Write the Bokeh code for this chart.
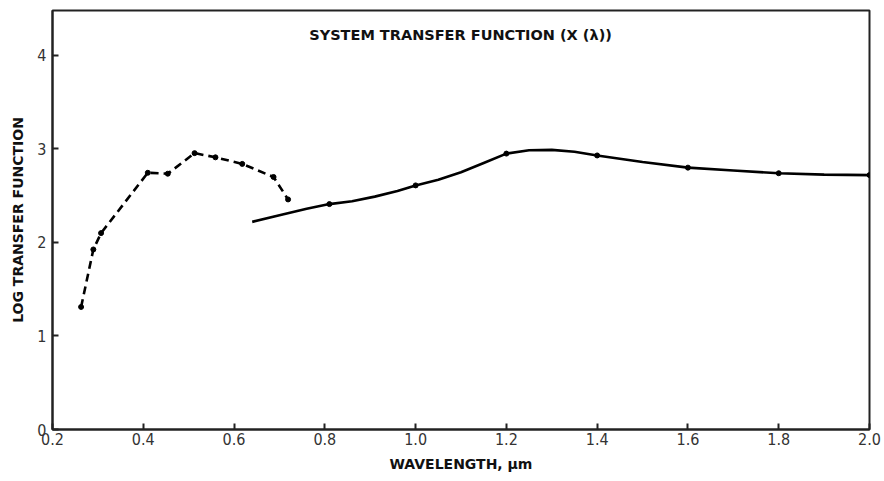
from bokeh.plotting import figure
from bokeh.models import Range1d, FixedTicker, Label, NumeralTickFormatter
from bokeh.embed import file_html
from bokeh.resources import INLINE

# Dashed curve (short wavelengths)
dash_x = [0.263, 0.290, 0.307, 0.410, 0.454, 0.513, 0.559, 0.618, 0.687, 0.719]
dash_y = [1.31, 1.925, 2.10, 2.745, 2.735, 2.955, 2.91, 2.84, 2.70, 2.46]

# Solid curve traced path
solid_x = [0.64, 0.70, 0.76, 0.81, 0.86, 0.91, 0.96, 1.00, 1.05, 1.10, 1.15, 1.20, 1.25, 1.30, 1.35, 1.40, 1.50, 1.60, 1.70, 1.80, 1.90, 2.00]
solid_y = [2.22, 2.29, 2.36, 2.41, 2.44, 2.49, 2.55, 2.61, 2.67, 2.75, 2.85, 2.95, 2.985, 2.99, 2.97, 2.93, 2.86, 2.80, 2.77, 2.74, 2.725, 2.72]

# Solid curve marked points
mark_x = [0.81, 1.00, 1.20, 1.40, 1.60, 1.80, 2.00]
mark_y = [2.41, 2.61, 2.95, 2.93, 2.80, 2.74, 2.72]

x_ticks = [0.2, 0.4, 0.6, 0.8, 1.0, 1.2, 1.4, 1.6, 1.8, 2.0]
y_ticks = [0, 1, 2, 3, 4]

p = figure(width=884, height=481, output_backend="svg", toolbar_location=None,
           x_range=Range1d(0.2, 2.0), y_range=Range1d(0, 4.48),
           min_border_left=52, min_border_right=15, min_border_top=10, min_border_bottom=52)
p.background_fill_color = "white"
p.border_fill_color = "white"
p.outline_line_color = "#222222"
p.outline_line_width = 2
p.grid.visible = False

p.line(dash_x, dash_y, line_color="black", line_width=2.6, line_dash="8 5")
p.scatter(dash_x, dash_y, size=5, color="black")
p.line(solid_x, solid_y, line_color="black", line_width=2.6)
p.scatter(mark_x, mark_y, size=5, color="black")

for ax in (p.xaxis[0], p.yaxis[0]):
    ax.major_tick_in = 6
    ax.major_tick_out = 0
    ax.minor_tick_in = 0
    ax.minor_tick_out = 0
    ax.axis_line_color = "#222222"
    ax.axis_line_width = 2
    ax.major_tick_line_color = "#222222"
    ax.major_tick_line_width = 2
    ax.major_label_text_font = "Liberation Sans Narrow, DejaVu Sans Condensed, sans-serif"
    ax.major_label_text_font_size = "16px"
    ax.major_label_text_color = "#333333"
    ax.axis_label_text_font = "DejaVu Sans"
    ax.axis_label_text_font_style = "bold"
    ax.axis_label_text_font_size = "14px"
    ax.axis_label_text_color = "#111111"

p.xaxis.ticker = FixedTicker(ticks=x_ticks)
p.xaxis.formatter = NumeralTickFormatter(format="0.0")
p.yaxis.ticker = FixedTicker(ticks=y_ticks)
p.xaxis.axis_label = "WAVELENGTH, μm"
p.yaxis.axis_label = "LOG TRANSFER FUNCTION"
p.xaxis.major_label_standoff = 3
p.xaxis.axis_label_standoff = 8
p.yaxis.major_label_standoff = 6
p.yaxis.axis_label_standoff = 8

title = Label(x=1.099, y=4.22, x_units="data", y_units="data",
              text="SYSTEM TRANSFER FUNCTION (X (λ))", text_align="center",
              text_baseline="middle", text_font="DejaVu Sans", text_font_style="bold",
              text_font_size="14.5px", text_color="#111111")
p.add_layout(title)

open("out.html", "w").write(file_html(p, INLINE))
